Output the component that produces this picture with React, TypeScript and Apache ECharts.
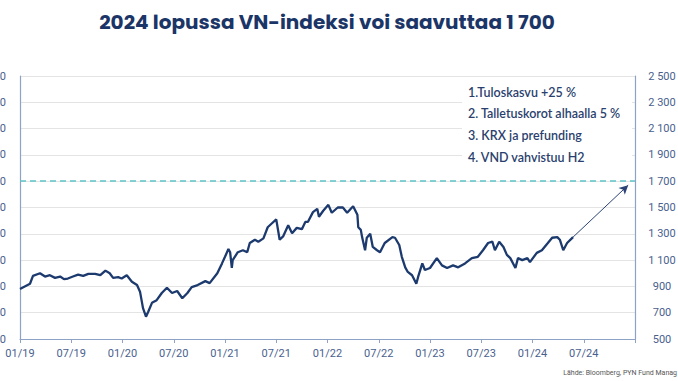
import React, { useEffect, useRef } from "react";
import * as echarts from "echarts";

// Months elapsed since January 2019 (fractional) and VN-Index closing values
const months = [
  0, 1.17, 1.52, 2.34, 2.93, 3.5, 4.1, 4.7, 5.15, 5.6, 6.2, 6.8, 7.4, 8.0, 8.8, 9.4, 10.0, 10.5, 10.9, 11.5,
  11.9, 12.5, 13.1, 13.7, 14.05, 14.4, 14.75, 15.0, 15.45, 16.0, 16.6, 17.2, 17.8, 18.4, 19.0, 19.6, 20.1,
  20.8, 21.7, 22.2, 23.1, 23.65, 24.0, 24.4, 24.6, 24.8, 24.9, 25.5, 26.1, 26.6, 26.9, 27.5, 27.9, 28.5,
  29.0, 29.5, 30.0, 30.4, 30.8, 31.4, 31.85, 32.4, 33.0, 33.4, 33.7, 34.3, 34.8, 35.0, 35.5, 36.1, 36.5,
  37.2, 37.8, 38.3, 39.0, 39.5, 39.6, 39.9, 40.05, 40.4, 40.6, 41.0, 41.3, 41.8, 42.15, 42.7, 43.6, 43.9,
  44.4, 44.7, 45.1, 45.4, 45.9, 46.4, 46.6, 47.1, 47.4, 48.0, 48.8, 49.4, 50.0, 50.7, 51.3, 52.1, 52.9,
  53.6, 54.2, 54.8, 55.3, 55.6, 56.1, 56.6, 57.0, 57.4, 58.0, 58.3, 58.8, 59.4, 59.7, 60.5, 61.1, 61.8,
  62.3, 62.9, 63.2, 63.6, 64.05, 64.75,
];
const indexValues = [
  880, 920, 980, 1000, 975, 985, 965, 975, 955, 960, 975, 990, 980, 995, 995, 985, 1020, 1000, 965, 970,
  960, 985, 935, 910, 860, 735, 670, 705, 775, 795, 850, 890, 850, 865, 810, 850, 895,
  910, 940, 925, 1000, 1075, 1125, 1185, 1160, 1040, 1100, 1160, 1175, 1160, 1230, 1255, 1240, 1265,
  1350, 1380, 1410, 1255, 1280, 1365, 1305, 1345, 1335, 1390, 1390, 1465, 1490, 1430, 1475, 1520, 1460,
  1500, 1500, 1460, 1510, 1445, 1350, 1330, 1275, 1175, 1270, 1300, 1200, 1175, 1160, 1230, 1275, 1270,
  1215, 1125, 1045, 1010, 985, 920, 970, 1075, 1025, 1040, 1115, 1060, 1040, 1060, 1045, 1075, 1115,
  1125, 1175, 1230, 1240, 1175, 1240, 1200, 1140, 1115, 1040, 1115, 1100, 1115, 1085, 1155, 1175, 1230,
  1270, 1275, 1255, 1175, 1230, 1275,
];

// Forecast arrow target (month index, value) and target level
const arrowTarget = [71.2, 1670];
const targetLevel = 1700;

const xTickMonths = [0, 6, 12, 18, 24, 30, 36, 42, 48, 54, 60, 66];
const notes = [
  "1.Tuloskasvu +25 %",
  "2. Talletuskorot alhaalla 5 %",
  "3. KRX ja prefunding",
  "4. VND vahvistuu H2",
];
const titleText = "2024 lopussa VN-indeksi voi saavuttaa 1 700";
const sourceText = "Lähde: Bloomberg, PYN Fund Manag";

const navy = "#1c3a6e";
const axisColor = "#8ea2c6";
const labelColor = "#4a5f8e";

function fmtThousands(v: number) {
  const s = String(v);
  return s.length > 3 ? s.slice(0, s.length - 3) + " " + s.slice(-3) : s;
}

function fmtMonth(m: number) {
  if (!xTickMonths.includes(m)) return "";
  const mm = (m % 12) + 1;
  const yy = 19 + Math.floor(m / 12);
  return (mm < 10 ? "0" + mm : String(mm)) + "/" + yy;
}

export default function App() {
  const ref = useRef<HTMLDivElement>(null);
  useEffect(() => {
    if (!ref.current) return;
    const chart = echarts.init(ref.current, undefined, { renderer: "svg" });
    const lineData = months.map((m, i) => [m, indexValues[i]]);
    const last = lineData[lineData.length - 1];
    const yCommon = {
      type: "value" as const,
      min: 500,
      max: 2500,
      interval: 200,
      axisLine: { show: true, lineStyle: { color: axisColor, width: 1.2 } },
      axisTick: { show: false },
    };
    chart.setOption({
      animation: false,
      backgroundColor: "#ffffff",
      grid: { left: 20, right: 43, top: 76, bottom: 42, containLabel: false, outerBoundsMode: "none" },
      xAxis: {
        type: "value",
        min: 0,
        max: 72,
        interval: 6,
        axisLine: { show: true, onZero: false, lineStyle: { color: axisColor, width: 1.2 } },
        axisTick: { show: true, length: 4, lineStyle: { color: axisColor } },
        splitLine: { show: false },
        axisLabel: {
          formatter: (v: number) => fmtMonth(v),
          color: labelColor,
          fontFamily: "Roboto",
          fontSize: 11,
          margin: 9,
        },
      },
      yAxis: [
        {
          ...yCommon,
          position: "left",
          splitLine: { show: true, lineStyle: { color: "#e4e4e4", width: 1.2 } },
          axisLabel: {
            formatter: (v: number) => fmtThousands(v),
            color: labelColor,
            fontFamily: "Roboto",
            fontSize: 11,
            align: "right",
            margin: 14,
          },
        },
        {
          ...yCommon,
          position: "right",
          splitLine: { show: false },
          axisLabel: {
            formatter: (v: number) => fmtThousands(v),
            color: labelColor,
            fontFamily: "Roboto",
            fontSize: 11,
            align: "center",
            margin: 27,
          },
        },
      ],
      series: [
        {
          type: "line",
          data: lineData,
          showSymbol: false,
          symbol: "none",
          lineStyle: { color: navy, width: 2.3 },
          markLine: {
            silent: true,
            symbol: ["none", "none"],
            label: { show: false },
            lineStyle: { color: "#5ec3c7", type: [6, 4], width: 1.5 },
            data: [{ yAxis: targetLevel }],
          },
        },
        {
          type: "line",
          data: [],
          markLine: {
            silent: true,
            symbol: ["none", "arrow"],
            symbolSize: [7, 9],
            label: { show: false },
            lineStyle: { color: "#2c4475", type: "solid", width: 1 },
            data: [[{ coord: last }, { coord: arrowTarget }]],
          },
        },
      ],
      graphic: [
        {
          type: "text",
          x: 327,
          y: 22,
          style: {
            text: titleText,
            fill: "#1b3567",
            font: "bold 20px 'Poppins', 'Noto Sans', sans-serif",
            textAlign: "center",
            textVerticalAlign: "middle",
          },
        },
        {
          type: "rect",
          shape: { x: 462, y: 78, width: 170, height: 90 },
          style: { fill: "#ffffff" },
          z: 10,
        },
        ...notes.map((t, i) => ({
          type: "text",
          x: 468,
          y: 92 + i * 21.7,
          z: 11,
          style: {
            text: t,
            fill: "#2b3f6e",
            font: "600 12.5px 'Lato', 'Noto Sans', sans-serif",
            textVerticalAlign: "middle",
          },
        })),
        {
          type: "text",
          x: 677,
          y: 373,
          style: {
            text: sourceText,
            fill: "#555555",
            font: "7px 'Roboto', sans-serif",
            textAlign: "right",
            textVerticalAlign: "middle",
          },
        },
      ],
    });
    return () => chart.dispose();
  }, []);
  return (
    <div
      ref={ref}
      style={{ position: "fixed", left: 0, top: 0, width: 678, height: 381 }}
    />
  );
}
